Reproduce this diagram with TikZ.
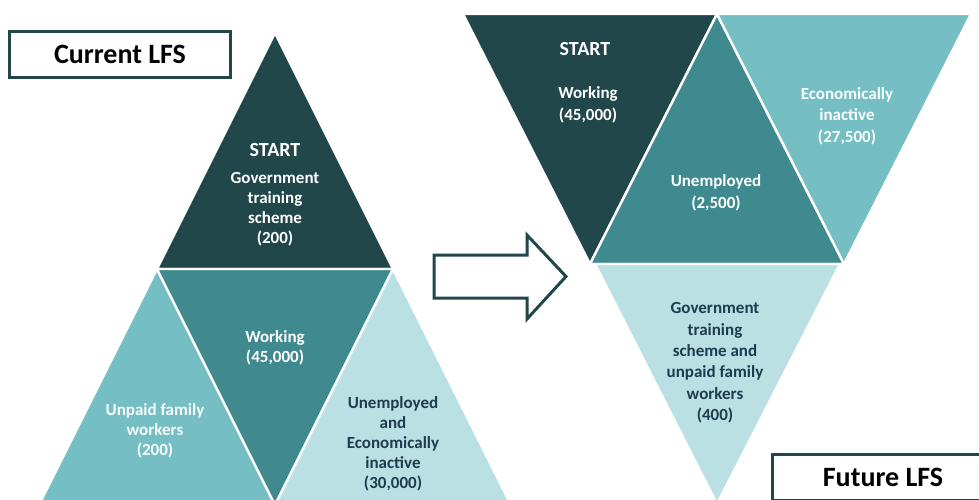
\documentclass[tikz,border=0pt]{standalone}
\usepackage{fontspec}
\setmainfont{Carlito}
\usepackage{xcolor}
\usepackage{tikz}
\usetikzlibrary{calc}

\definecolor{darkteal}{HTML}{21474A}
\definecolor{midteal}{HTML}{3E8A8F}
\definecolor{lightteal}{HTML}{74BEC4}
\definecolor{paleteal}{HTML}{BAE0E3}
\definecolor{navytext}{HTML}{1F3B4F}

\begin{document}
\begin{tikzpicture}[x=1pt, y=-1pt,
    tri/.style={draw=white, line width=2.4pt, line join=miter},
    lbl/.style={font=\fontsize{17}{20}\selectfont\bfseries, align=center, text=white, inner sep=0pt},
    lblr/.style={lbl, font=\fontsize{17}{21.4}\selectfont\bfseries},
    startlbl/.style={font=\fontsize{20}{24}\selectfont\bfseries, text=white, inner sep=0pt},
    lfsbox/.style={draw=darkteal, line width=3pt, fill=white, minimum width=221pt, minimum height=46pt,
        font=\fontsize{28}{32}\selectfont\bfseries, inner sep=0pt}]
        %FRAME
        \useasboundingbox (0,0) rectangle (979,500);
        \clip (0,0) rectangle (979,500);

        %CURRENT TRIANGLES
        \filldraw[tri, fill=darkteal] (275,33) -- (157,269) -- (393,269) -- cycle;
        \filldraw[tri, fill=lightteal] (157,269) -- (39,505) -- (275,505) -- cycle;
        \filldraw[tri, fill=midteal] (157,269) -- (393,269) -- (275,505) -- cycle;
        \filldraw[tri, fill=paleteal] (393,269) -- (275,505) -- (511,505) -- cycle;

        %FUTURE TRIANGLES
        \filldraw[tri, fill=darkteal] (463,14) -- (717,14) -- (590,264) -- cycle;
        \filldraw[tri, fill=midteal] (717,14) -- (590,264) -- (844,264) -- cycle;
        \filldraw[tri, fill=lightteal] (717,14) -- (971,14) -- (844,264) -- cycle;
        \filldraw[tri, fill=paleteal] (595,264) -- (840,264) -- (717,504) -- cycle;

        %ARROW
        \draw[darkteal, line width=3pt, line join=miter]
            (434,255) -- (527,255) -- (527,235) -- (566,276.5) -- (527,319) -- (527,298) -- (434,298) -- cycle;

        %BOXES
        \node[lfsbox] (curbox) at (120,54.5) {Current LFS};
        \node[lfsbox] (futbox) at (883,477.5) {Future LFS};

        %LABEL CURRENT
        \node[startlbl] (curstart) at (275,150) {START};
        \node[lbl] (curtrain) at (275,209) {Government\\training\\scheme\\(200)};
        \node[lbl] (curwork) at (275,348) {Working\\(45,000)};
        \node[lbl, text=white!92!paleteal] (curunpaid) at (155,431) {Unpaid family\\workers\\(200)};
        \node[lbl, text=navytext] (curunemp) at (393,444) {Unemployed\\and\\Economically\\inactive\\(30,000)};

        %LABEL FUTURE
        \node[startlbl] (futstart) at (585,49) {START};
        \node[lblr] (futwork) at (588,105) {Working\\(45,000)};
        \node[lblr] (futunemp) at (716,193) {Unemployed\\(2,500)};
        \node[lblr, text=white!92!paleteal] (futinact) at (847,116) {Economically\\inactive\\(27,500)};
        \node[lblr, text=navytext] (futtrain) at (715,363) {Government\\training\\scheme and\\unpaid family\\workers\\(400)};
    \end{tikzpicture}
\end{document}
